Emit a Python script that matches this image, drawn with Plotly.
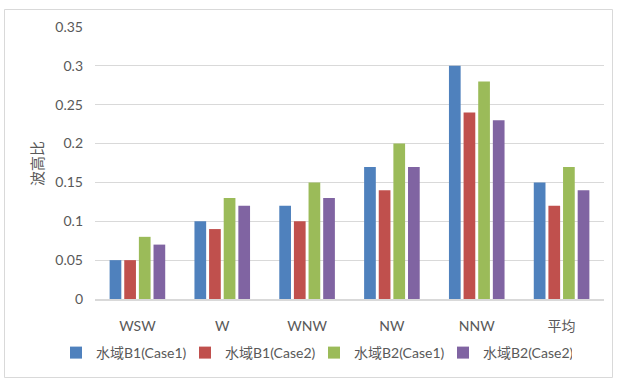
import plotly.graph_objects as go

# Wave height ratio by wave direction for each water area / case
categories = ["WSW", "W", "WNW", "NW", "NNW", "平均"]
b1_case1 = [0.05, 0.10, 0.12, 0.17, 0.30, 0.15]
b1_case2 = [0.05, 0.09, 0.10, 0.14, 0.24, 0.12]
b2_case1 = [0.08, 0.13, 0.15, 0.20, 0.28, 0.17]
b2_case2 = [0.07, 0.12, 0.13, 0.17, 0.23, 0.14]
series_names = ["水域B1(Case1)", "水域B1(Case2)", "水域B2(Case1)", "水域B2(Case2)"]
y_ticks = [0, 0.05, 0.1, 0.15, 0.2, 0.25, 0.3, 0.35]
y_tick_text = ["0", "0.05", "0.1", "0.15", "0.2", "0.25", "0.3", "0.35"]

colors = ["#4F81BD", "#C0504D", "#9BBB59", "#8064A2"]
font_family = "Lato, 'Noto Sans CJK SC', sans-serif"
text_color = "#595959"

fig = go.Figure()
for name, vals, col in zip(series_names, [b1_case1, b1_case2, b2_case1, b2_case2], colors):
    fig.add_trace(go.Bar(x=categories, y=vals, name=name, marker=dict(color=col, line=dict(width=0))))

W, H = 617, 379
ml, mr, mt, mb = 95, 13, 27, 80
pw, ph = W - ml - mr, H - mt - mb

def px_x(px):
    return (px - ml) / pw

def px_y(py):
    return (H - mb - py) / ph

fig.update_layout(
    width=W, height=H,
    margin=dict(l=ml, r=mr, t=mt, b=mb, autoexpand=False),
    paper_bgcolor="white", plot_bgcolor="white",
    barmode="group", bargap=0.31, bargroupgap=0.2,
    font=dict(family=font_family, size=14, color=text_color),
    legend=dict(orientation="h", x=px_x(56), xanchor="left", y=px_y(353), yanchor="middle",
                font=dict(size=14, color=text_color), entrywidth=84, entrywidthmode="pixels",
                traceorder="normal", itemwidth=30, bgcolor="rgba(0,0,0,0)"),
    xaxis=dict(showgrid=False, showline=True, linecolor="#D9D9D9", linewidth=1.5,
               ticks="", ticklabelstandoff=13, tickfont=dict(size=14, color=text_color)),
    yaxis=dict(range=[0, 0.35], tickvals=y_ticks, ticktext=y_tick_text, showgrid=True,
               gridcolor="#D9D9D9", gridwidth=1, zeroline=False, showline=False, ticks="",
               ticklabelstandoff=11, tickfont=dict(size=14, color=text_color)),
    annotations=[dict(text="波高比", textangle=-90, x=px_x(37), y=px_y(164), xref="paper", yref="paper",
                      xanchor="center", yanchor="middle",
                      showarrow=False, font=dict(size=15, color=text_color))],
    shapes=[dict(type="rect", xref="paper", yref="paper", x0=px_x(4.5), x1=px_x(612.5),
                 y0=px_y(377.5), y1=px_y(9.5), line=dict(color="#D9D9D9", width=1))],
)

fig.write_html("out.html")
